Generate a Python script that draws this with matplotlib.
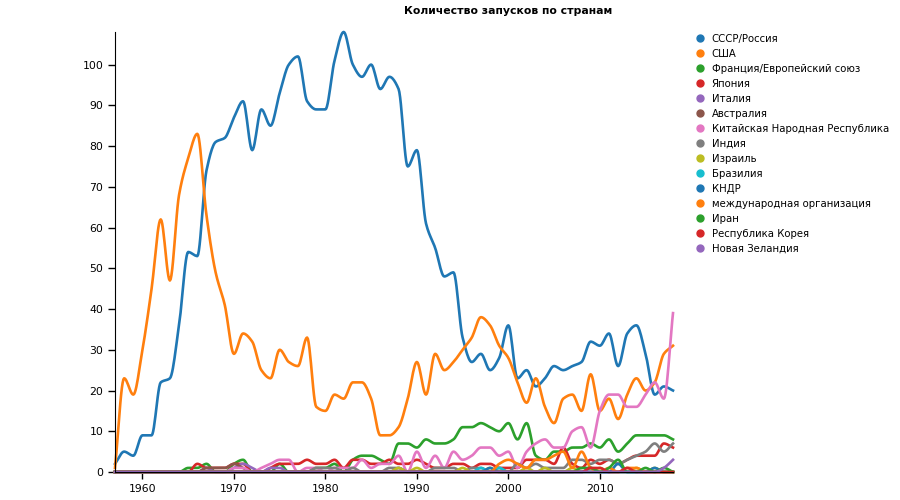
import numpy as np
import matplotlib
matplotlib.use("Agg")
import matplotlib.pyplot as plt
from matplotlib.lines import Line2D

# Годы наблюдений
years = list(range(1957, 2019))

# Крупные серии (полные ряды по годам 1957-2018)
ussr = [2, 5, 4, 9, 9, 22, 23, 36, 54, 53, 74, 81, 82, 87, 91, 79, 89, 85, 93, 100,
        102, 91, 89, 89, 101, 108, 100, 97, 100, 94, 97, 94, 75, 79, 61, 55, 48, 49,
        33, 27, 29, 25, 28, 36, 23, 25, 21, 23, 26, 25, 26, 27, 32, 31, 34, 26, 34,
        36, 29, 19, 21, 20]
usa = [1, 23, 19, 30, 45, 62, 47, 68, 77, 83, 63, 49, 41, 29, 34, 32, 25, 23, 30, 27,
       26, 33, 16, 15, 19, 18, 22, 22, 18, 9, 9, 11, 18, 27, 19, 29, 25, 27, 30, 33,
       38, 36, 31, 28, 22, 17, 23, 16, 12, 18, 19, 15, 24, 15, 18, 13, 19, 23, 20,
       22, 29, 31]
france_eu = [0, 0, 0, 0, 0, 0, 0, 0, 1, 1, 2, 0, 0, 2, 3, 0, 0, 0, 2, 0, 0, 0, 1, 1,
             2, 0, 3, 4, 4, 3, 2, 7, 7, 6, 8, 7, 7, 8, 11, 11, 12, 11, 10, 12, 8, 12,
             4, 3, 5, 5, 6, 6, 7, 6, 8, 5, 7, 9, 9, 9, 9, 8]
japan = [0, 0, 0, 0, 0, 0, 0, 0, 0, 2, 1, 1, 1, 2, 2, 0, 0, 1, 2, 2, 2, 3, 2, 2, 3,
         1, 3, 3, 2, 2, 3, 2, 2, 3, 2, 1, 1, 2, 2, 1, 2, 2, 1, 1, 1, 3, 3, 3, 2, 6,
         2, 1, 3, 2, 3, 2, 3, 4, 4, 4, 7, 6]
china = [0] * 13 + [1, 1, 0, 1, 2, 3, 3, 0, 1, 1, 0, 1, 1, 1, 3, 1, 2, 2, 4, 0, 5, 1,
                    4, 1, 5, 3, 4, 6, 6, 4, 5, 1, 5, 7, 8, 6, 6, 10, 11, 6, 15, 19,
                    19, 16, 16, 19, 22, 18, 39]

# Небольшие серии: только годы с запусками
italy = {1967: 1, 1970: 1, 1971: 2, 1972: 1, 1974: 1, 1975: 1, 1988: 1}
australia = {1967: 1, 1968: 1, 1969: 1, 1970: 2, 1971: 1}
india = {1979: 1, 1980: 1, 1981: 1, 1983: 1, 1987: 1, 1988: 1, 1992: 1, 1993: 1,
         1994: 1, 1996: 1, 1997: 1, 1999: 1, 2001: 2, 2002: 1, 2003: 2, 2004: 1,
         2005: 1, 2006: 1, 2007: 3, 2008: 3, 2009: 2, 2010: 3, 2011: 3, 2012: 2,
         2013: 3, 2014: 4, 2015: 5, 2016: 7, 2017: 5, 2018: 7}
israel = {1988: 1, 1990: 1, 1995: 1, 1998: 1, 2002: 1, 2004: 1, 2007: 1, 2010: 1,
          2014: 1, 2016: 1}
brazil = {1997: 1, 1999: 1}
dprk = {1998: 1, 2009: 1, 2012: 2, 2016: 1}
intl_org = {1999: 2, 2000: 3, 2001: 2, 2002: 1, 2003: 3, 2004: 3, 2005: 4, 2006: 5,
            2007: 1, 2008: 5, 2009: 1, 2011: 1, 2013: 1, 2014: 1}
iran = {2008: 1, 2009: 1, 2011: 1, 2012: 3, 2015: 1, 2017: 1}
korea = {2009: 1, 2010: 1, 2013: 1}
new_zealand = {2017: 1, 2018: 3}

countries = ["СССР/Россия", "США", "Франция/Европейский союз", "Япония", "Италия",
             "Австралия", "Китайская Народная Республика", "Индия", "Израиль",
             "Бразилия", "КНДР", "международная организация", "Иран",
             "Республика Корея", "Новая Зеландия"]


def to_series(d):
    # словарь {год: число} -> полный ряд по всем годам
    if isinstance(d, dict):
        return [d.get(y, 0) for y in years]
    return list(d)


def pchip(x, y, n=12):
    # монотонная кубическая интерполяция только для гладкости линии
    x = np.asarray(x, float)
    y = np.asarray(y, float)
    h = np.diff(x)
    delta = np.diff(y) / h
    m = np.zeros_like(y)
    m[0], m[-1] = delta[0], delta[-1]
    for i in range(1, len(y) - 1):
        if delta[i - 1] * delta[i] > 0:
            w1 = 2 * h[i] + h[i - 1]
            w2 = h[i] + 2 * h[i - 1]
            m[i] = (w1 + w2) / (w1 / delta[i - 1] + w2 / delta[i])
    xs, ys = [], []
    for i in range(len(x) - 1):
        t = np.linspace(0, 1, n, endpoint=False)
        h00 = 2 * t**3 - 3 * t**2 + 1
        h10 = t**3 - 2 * t**2 + t
        h01 = -2 * t**3 + 3 * t**2
        h11 = t**3 - t**2
        xs.append(x[i] + t * h[i])
        ys.append(h00 * y[i] + h10 * h[i] * m[i] + h01 * y[i + 1] + h11 * h[i] * m[i + 1])
    xs.append([x[-1]])
    ys.append([y[-1]])
    return np.concatenate(xs), np.concatenate(ys)


series = [ussr, usa, france_eu, japan, italy, australia, china, india, israel,
          brazil, dprk, intl_org, iran, korea, new_zealand]
colors = plt.cm.tab10.colors

fig = plt.figure(figsize=(9, 5), dpi=100)
ax = fig.add_axes([115 / 900, 28 / 500, 558 / 900, 440 / 500])

handles = []
for i, (name, s) in enumerate(zip(countries, series)):
    c = colors[i % 10]
    xs, ys = pchip(years, to_series(s))
    ax.plot(xs, ys, color=c, lw=1.9, solid_joinstyle="round", clip_on=False)
    handles.append(Line2D([0], [0], marker="o", ls="none", color=c, markersize=5, label=name))

ax.set_xlim(1957, 2018)
ax.set_ylim(0, 108)
ax.set_yticks(range(0, 101, 10))
ax.set_xticks(range(1960, 2011, 10))
for sp in ["top", "right"]:
    ax.spines[sp].set_visible(False)
ax.tick_params(direction="out", length=5, width=1, labelsize=7.8)

fig.text(508 / 900, 1 - 11 / 500, "Количество запусков по странам", ha="center",
         va="center", fontsize=7.8, fontweight="bold")

fig.legend(handles=handles, loc="upper left", bbox_to_anchor=(695 / 900, 1 - 34 / 500),
           frameon=False, fontsize=7.3, labelspacing=0.49, handletextpad=0.65,
           handlelength=1.0, borderpad=0, borderaxespad=0)

fig.savefig("out.png", dpi=100)
